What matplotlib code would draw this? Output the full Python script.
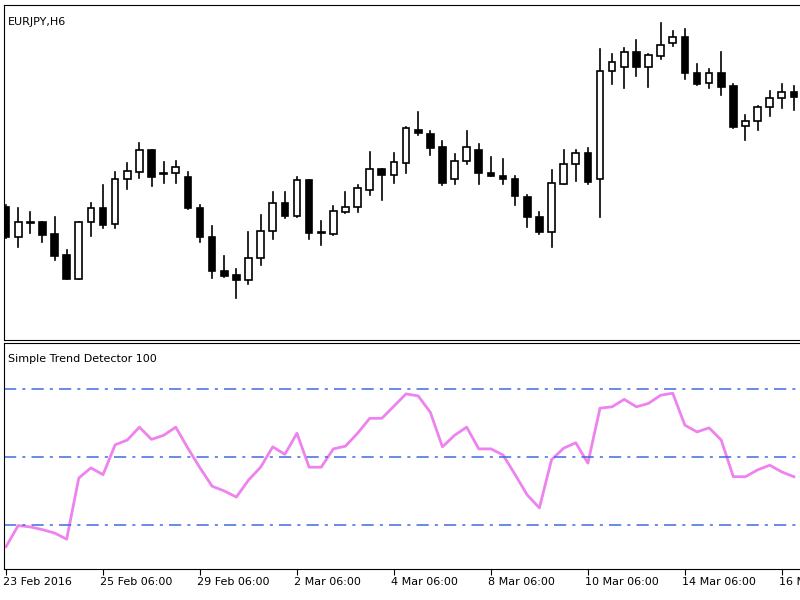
import matplotlib.pyplot as plt
import numpy as np

# EURJPY H6 candles, in points above 125.00 (1 point = 0.01)
opens = [93, 63, 78, 78, 66, 45, 21, 78, 92, 76, 121, 128, 150, 127, 127, 123, 92, 63, 29, 25,
         20, 42, 69, 97, 84, 120, 68, 66, 88, 93, 110, 131, 125, 137, 170, 166, 153, 121, 139, 150,
         127, 124, 121, 103, 83, 68, 116, 136, 147, 121, 229, 233, 248, 233, 244, 257, 263, 227, 217, 227,
         214, 174, 179, 193, 202, 208]
highs = [95, 92, 88, 78, 83, 50, 78, 97, 115, 128, 137, 157, 150, 138, 139, 128, 95, 74, 44, 31,
         68, 85, 108, 108, 123, 120, 79, 94, 108, 115, 148, 131, 147, 173, 188, 169, 159, 146, 169, 156,
         143, 141, 124, 105, 88, 130, 150, 150, 152, 251, 246, 252, 260, 246, 277, 269, 271, 236, 231, 248,
         216, 185, 194, 209, 216, 214]
lows = [62, 53, 67, 58, 40, 21, 21, 64, 72, 72, 111, 122, 114, 117, 117, 91, 58, 22, 23, 2,
        16, 35, 61, 82, 83, 61, 55, 65, 87, 88, 105, 100, 117, 127, 165, 145, 115, 116, 136, 116,
        124, 116, 95, 73, 66, 53, 116, 119, 116, 83, 216, 212, 224, 213, 241, 254, 221, 215, 212, 205,
        172, 160, 170, 184, 192, 190]
closes = [63, 78, 77, 65, 44, 21, 78, 92, 75, 121, 129, 150, 123, 126, 133, 92, 63, 29, 24, 20,
          42, 69, 97, 84, 120, 67, 67, 89, 93, 112, 131, 125, 138, 172, 167, 152, 117, 139, 153, 127,
          124, 121, 104, 83, 68, 117, 136, 147, 118, 229, 238, 248, 233, 245, 255, 263, 227, 216, 227, 213,
          173, 179, 193, 202, 208, 203]

# Simple Trend Detector 100 values (x100)
trend = [-132, -101, -103, -107, -112, -121, -31, -16, -26, 18, 25, 44, 26, 32, 44, 13, -16, -43, -50, -59,
         -34, -15, 15, 4, 35, -15, -15, 12, 16, 35, 57, 57, 75, 93, 90, 66, 15, 32, 44, 12,
         12, 3, -26, -56, -75, -4, 13, 21, -9, 72, 74, 85, 74, 79, 91, 94, 47, 37, 43, 25,
         -29, -29, -19, -12, -22, -29]
levels = [100, 0, -100]

tick_idx = [0, 8, 16, 24, 32, 40, 48, 56, 64]
tick_labels = ["23 Feb 2016", "25 Feb 06:00", "29 Feb 06:00", "2 Mar 06:00", "4 Mar 06:00",
               "8 Mar 06:00", "10 Mar 06:00", "14 Mar 06:00", "16 Mar 06:00"]

fig = plt.figure(figsize=(8, 6), dpi=100)
ax1 = fig.add_axes([0.005, 1 - 340 / 600, 0.995, 335 / 600])
ax2 = fig.add_axes([0.005, 1 - 569 / 600, 0.995, 226 / 600])

x = np.arange(len(opens))
w = 0.55
for i in x:
    o, h, l, c = opens[i], highs[i], lows[i], closes[i]
    ax1.plot([i, i], [l, h], color='black', lw=1.2, zorder=1)
    lo, hi = min(o, c), max(o, c)
    face = 'white' if c >= o else 'black'
    ax1.add_patch(plt.Rectangle((i - w / 2, lo), w, max(hi - lo, 0.8),
                                facecolor=face, edgecolor='black', lw=1.2, zorder=2))
ax1.set_ylim(-40, 295)
ax1.text(0.005, 0.965, "EURJPY,H6", transform=ax1.transAxes, fontsize=8, va='top')

ax2.plot(x, trend, color='violet', lw=2)
for lv in levels:
    ax2.axhline(lv, color='royalblue', lw=1.1, ls=(0, (8, 4, 2, 4)))
ax2.set_ylim(-165, 168)
ax2.text(0.005, 0.95, "Simple Trend Detector 100", transform=ax2.transAxes, fontsize=8, va='top')

for ax in (ax1, ax2):
    ax.set_xlim(-0.17, 65.5)
    ax.set_yticks([])
    for s in ax.spines.values():
        s.set_color('black')
    ax.spines['right'].set_visible(False)

ax1.set_xticks([])
ax2.set_xticks(tick_idx)
ax2.set_xticklabels(tick_labels, fontsize=8, ha='left')
ax2.tick_params(axis='x', length=4, pad=2)
for lab in ax2.get_xticklabels():
    lab.set_x(lab.get_position()[0])
import matplotlib.transforms as mt
off = mt.ScaledTranslation(-3 / 100, 0, fig.dpi_scale_trans)
for lab in ax2.get_xticklabels():
    lab.set_transform(lab.get_transform() + off)

fig.savefig("out.png", dpi=100)
